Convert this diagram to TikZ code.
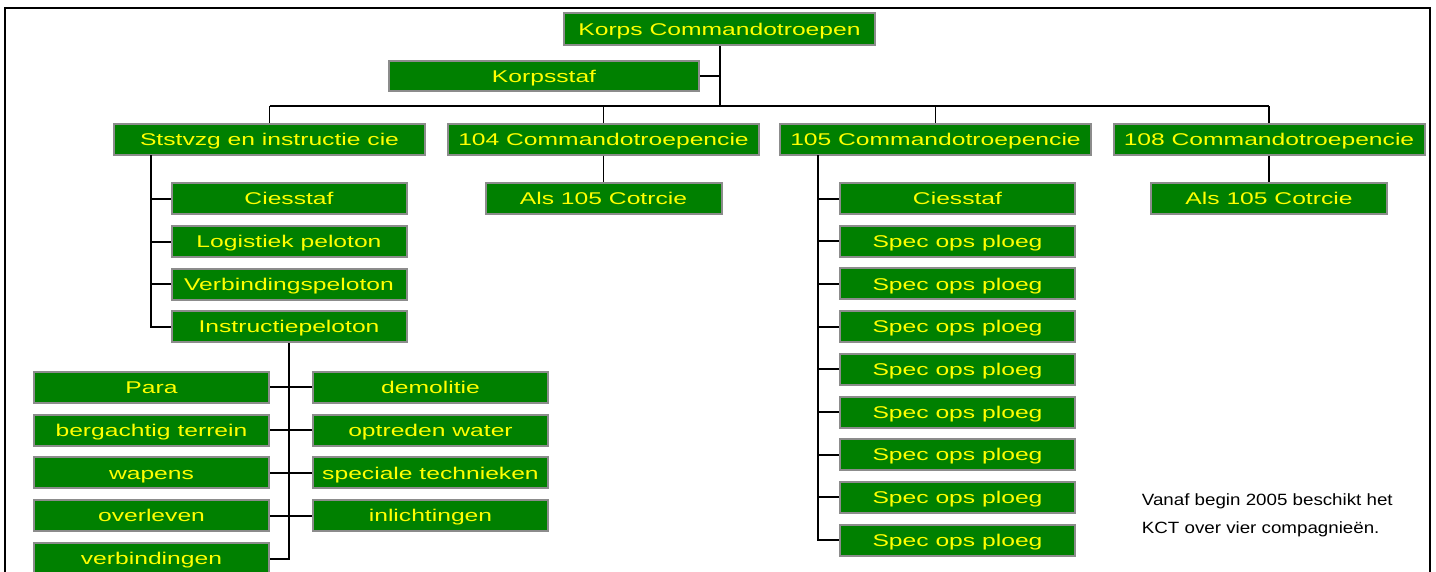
\documentclass[tikz,border=0pt]{standalone}
\usepackage{fontspec}
\setmainfont{Liberation Sans}
\newfontfamily\boxfont{Liberation Sans}[FakeStretch=1.45]
\newfontfamily\notefont{Liberation Sans}[FakeStretch=1.15]
\definecolor{boxgreen}{RGB}{0,128,0}
\definecolor{boxedge}{RGB}{140,140,140}
\definecolor{boxtext}{RGB}{255,255,0}
\tikzset{
  orgbox/.style={draw=boxedge, line width=2pt, fill=boxgreen, text=boxtext,
    inner sep=0pt, minimum height=31pt, text height=12.4pt, text depth=0pt,
    font=\boxfont\fontsize{17}{20}\selectfont},
  lvl/.style={orgbox, minimum width=311pt},
  sub/.style={orgbox, minimum width=235pt},
  link/.style={draw=black, line width=2pt},
  thin/.style={draw=black, line width=1.2pt},
  frame/.style={draw=black, line width=2pt},
  note/.style={anchor=base west, inner sep=0pt, font=\notefont\fontsize{16.3}{20}\selectfont}
}
\begin{document}
\begin{tikzpicture}[x=1pt,y=-1pt]
\useasboundingbox (0,0) rectangle (1436,571);
\clip (0,0) rectangle (1436,571);
\draw[frame] (5,580) -- (5,8) -- (1429.5,8) -- (1429.5,580);

% top
\node[lvl, minimum height=32pt] (korps) at (719.5,29) {Korps Commandotroepen};
\node[orgbox, minimum width=310pt, minimum height=30pt] (staf) at (544,76) {Korpsstaf};

% level 2
\node[lvl] (sts) at (269.5,139) {Ststvzg en instructie cie};
\node[lvl] (c104) at (603.5,139) {104 Commandotroepencie};
\node[lvl] (c105) at (935.5,139) {105 Commandotroepencie};
\node[lvl] (c108) at (1269,139) {108 Commandotroepencie};

% bus
\coordinate (busL) at (269.5,106);
\coordinate (busR) at (1269,106);
\coordinate (busK) at (719.5,106);
\draw[link] (busL) -- (busR);
\draw[link] (korps.south) -- (busK);
\draw[link] (staf.east) -- (korps.south |- staf.east);
\draw[thin] (busL) -- (sts.north);
\draw[thin] (c104.north |- busL) -- (c104.north);
\draw[thin] (c105.north |- busL) -- (c105.north);
\draw[thin] (busR) -- (c108.north);

% Ststvzg children
\node[sub] (s1) at (289,198.5) {Ciesstaf};
\node[sub] (s2) at (289,241.5) {Logistiek peloton};
\node[sub] (s3) at (289,284) {Verbindingspeloton};
\node[sub] (s4) at (289,326.7) {Instructiepeloton};
\coordinate (sT) at (151,155);
\draw[link] (sT) -- (sT |- s4.west) -- (s4.west);
\foreach \n in {s1,s2,s3} \draw[link] (sT |- \n.west) -- (\n.west);

% 104 / 108 children
\node[sub, minimum width=236pt] (a104) at (603.5,198.5) {Als 105 Cotrcie};
\node[sub, minimum width=236pt] (a108) at (1269,198.5) {Als 105 Cotrcie};
\draw[thin] (c104.south) -- (a104.north);
\draw[thin] (c108.south) -- (a108.north);

% 105 children
\node[sub] (p0) at (957.5,198.5) {Ciesstaf};
\foreach \i in {1,...,8} {
  \node[sub] (p\i) at (957.5,198.5+42.7*\i) {Spec ops ploeg};
}
\coordinate (pT) at (817.5,155);
\draw[link] (pT) -- (pT |- p8.west) -- (p8.west);
\foreach \i in {0,...,7} \draw[link] (pT |- p\i.west) -- (p\i.west);

% Instructiepeloton children
\node[sub] (l1) at (151.5,387.3) {Para};
\node[sub] (l2) at (151.5,430.1) {bergachtig terrein};
\node[sub] (l3) at (151.5,472.9) {wapens};
\node[sub] (l4) at (151.5,515.7) {overleven};
\node[sub] (l5) at (151.5,558.5) {verbindingen};
\node[sub] (r1) at (430.5,387.3) {demolitie};
\node[sub] (r2) at (430.5,430.1) {optreden water};
\node[sub] (r3) at (430.5,472.9) {speciale technieken};
\node[sub] (r4) at (430.5,515.7) {inlichtingen};
\draw[link] (s4.south) -- (s4.south |- l5.east) -- (l5.east);
\foreach \i in {1,...,4} \draw[link] (l\i.east) -- (r\i.west);

% note
\node[note] (note1) at (1141.7,505) {Vanaf begin 2005 beschikt het};
\node[note] (note2) at (1141.7,533) {KCT over vier compagnieën.};
\end{tikzpicture}
\end{document}
